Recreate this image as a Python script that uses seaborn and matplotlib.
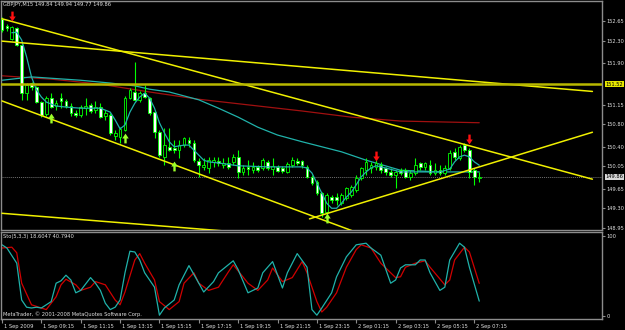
import matplotlib
matplotlib.use("Agg")
import matplotlib.pyplot as plt
import matplotlib.transforms as mtransforms
from matplotlib.path import Path
from matplotlib import font_manager
import seaborn as sns
import pandas as pd

# ---------------- data ----------------
opens = [152.69, 152.56, 152.33, 152.52, 152.22, 151.36, 151.54, 151.47, 151.20, 150.99,
         151.27, 151.13, 151.27, 151.22, 151.13, 151.00, 150.97, 151.09, 151.15, 151.06,
         151.11, 150.95, 150.97, 150.59, 150.57, 150.70, 151.27, 151.38, 151.24, 151.36,
         151.27, 151.02, 150.66, 150.22, 150.40, 150.38, 150.34, 150.43, 150.52, 150.47,
         150.15, 150.04, 150.02, 150.13, 150.15, 150.07, 150.11, 150.13, 150.22, 149.95,
         150.04, 149.98, 150.04, 150.02, 150.13, 150.00, 150.04, 150.02, 149.95, 150.07,
         150.15, 150.15, 150.04, 149.86, 149.77, 149.57, 149.23, 149.50, 149.50, 149.39,
         149.48, 149.54, 149.63, 149.84, 149.98, 150.02, 150.04, 150.07, 150.02, 149.95,
         149.89, 149.98, 149.98, 149.86, 149.93, 150.11, 150.04, 150.07, 149.93, 149.98,
         149.93, 150.02, 150.31, 150.20, 150.43, 150.34, 149.98, 149.84]
highs = [152.72, 152.60, 152.56, 152.54, 152.24, 151.54, 151.56, 151.49, 151.22, 151.31,
         151.36, 151.24, 151.36, 151.25, 151.18, 151.06, 151.15, 151.27, 151.18, 151.22,
         151.18, 151.06, 151.00, 150.70, 150.75, 151.31, 151.45, 151.92, 151.40, 151.50,
         151.29, 151.06, 150.70, 150.74, 150.74, 150.52, 150.52, 150.57, 150.57, 150.52,
         150.20, 150.20, 150.22, 150.22, 150.22, 150.20, 150.22, 150.27, 150.34, 150.07,
         150.16, 150.13, 150.07, 150.20, 150.16, 150.20, 150.07, 150.06, 150.13, 150.22,
         150.20, 150.16, 150.07, 149.89, 149.81, 149.59, 149.57, 149.54, 149.57, 149.57,
         149.68, 149.72, 149.89, 150.04, 150.20, 150.13, 150.16, 150.13, 150.04, 150.02,
         149.98, 150.02, 150.02, 149.98, 150.20, 150.13, 150.13, 150.16, 150.11, 150.07,
         150.07, 150.34, 150.38, 150.43, 150.47, 150.38, 150.02, 149.94]
lows = [152.45, 152.47, 152.31, 152.20, 151.24, 151.24, 151.42, 151.18, 150.93, 150.95,
        151.09, 151.06, 151.09, 151.09, 150.95, 150.93, 150.93, 150.97, 151.00, 151.00,
        150.91, 150.88, 150.61, 150.52, 150.47, 150.68, 151.25, 151.22, 151.20, 151.27,
        150.97, 150.56, 150.22, 150.07, 150.32, 150.29, 150.20, 150.40, 150.40, 150.13,
        149.86, 149.98, 149.93, 150.04, 150.06, 150.02, 150.00, 150.07, 149.84, 149.89,
        149.89, 149.93, 149.95, 149.98, 149.98, 149.89, 149.95, 149.93, 149.93, 150.04,
        150.07, 150.02, 149.84, 149.72, 149.54, 149.14, 149.09, 149.39, 149.36, 149.36,
        149.45, 149.50, 149.59, 149.81, 149.89, 149.93, 149.98, 149.93, 149.89, 149.86,
        149.66, 149.89, 149.84, 149.81, 149.89, 149.98, 149.98, 149.89, 149.89, 149.89,
        149.89, 149.98, 150.16, 150.16, 150.31, 149.84, 149.72, 149.77]
closes = [152.49, 152.52, 152.54, 152.22, 151.36, 151.50, 151.47, 151.20, 150.97, 151.27,
          151.11, 151.18, 151.22, 151.13, 151.00, 150.97, 151.11, 151.13, 151.04, 151.11,
          150.93, 151.00, 150.65, 150.65, 150.72, 151.27, 151.42, 151.24, 151.36, 151.29,
          151.00, 150.66, 150.25, 150.43, 150.34, 150.34, 150.43, 150.56, 150.47, 150.16,
          150.07, 150.07, 150.16, 150.16, 150.11, 150.11, 150.04, 150.22, 149.95, 150.02,
          150.00, 150.04, 149.98, 150.16, 150.02, 150.06, 149.97, 149.97, 150.09, 150.16,
          150.11, 150.07, 149.86, 149.75, 149.57, 149.22, 149.54, 149.45, 149.45, 149.54,
          149.66, 149.68, 149.84, 150.02, 150.13, 150.07, 150.11, 149.98, 149.95, 149.89,
          149.95, 149.93, 149.86, 149.93, 150.07, 150.04, 150.11, 149.93, 149.98, 149.93,
          150.02, 150.29, 150.22, 150.40, 150.34, 149.95, 149.86, 149.86]

fast_ma_bar = [2, 3, 4, 5, 6, 7, 8, 9, 11, 13, 16, 20, 22, 23, 24, 25, 26, 27, 28, 29,
               30, 31, 32, 33, 34, 35, 37, 38, 39, 40, 41, 42, 44, 48, 54, 61, 62, 63, 64, 65,
               66, 67, 68, 69, 70, 71, 72, 73, 74, 75, 76, 78, 81, 85, 89, 91, 92, 93, 94, 95,
               96, 97]
fast_ma_val = [152.44, 152.45, 152.31, 152.01, 151.65, 151.42, 151.29, 151.20, 151.13, 151.11,
               151.09, 151.09, 151.02, 150.88, 150.72, 150.79, 151.02, 151.18, 151.29, 151.36,
               151.27, 151.09, 150.83, 150.65, 150.49, 150.40, 150.43, 150.43, 150.34, 150.25,
               150.16, 150.13, 150.11, 150.06, 150.04, 150.04, 150.02, 149.93, 149.75, 149.57,
               149.39, 149.30, 149.30, 149.39, 149.50, 149.59, 149.72, 149.86, 149.95, 150.02,
               150.06, 150.02, 149.95, 149.95, 149.95, 150.00, 150.13, 150.22, 150.25, 150.22,
               150.13, 150.07]
mid_ma_bar = [0, 6, 16, 22, 27, 30, 34, 40, 44, 48, 52, 56, 61, 65, 69, 74, 81, 89, 97]
mid_ma_val = [151.59, 151.65, 151.59, 151.54, 151.49, 151.43, 151.38, 151.24, 151.09, 150.93,
              150.75, 150.61, 150.49, 150.40, 150.31, 150.16, 149.98, 149.95, 149.95]
slow_ma_bar = [0, 10, 20, 30, 40, 50, 61, 71, 81, 97]
slow_ma_val = [151.67, 151.61, 151.52, 151.38, 151.25, 151.15, 151.04, 150.93, 150.86, 150.83]

# trend lines (bar, price)
line1_bar, line1_val = [0, 120], [152.69, 149.82]
line2_bar, line2_val = [0, 120], [152.29, 151.39]
line4_bar, line4_val = [0, 80], [151.22, 148.61]
line5_bar, line5_val = [0, 60], [149.21, 148.79]
line6_bar, line6_val = [62.5, 120], [149.11, 150.66]
hline_level = 151.52
current_price = 149.86

# arrows (bar, price)
down_arrow_bar, down_arrow_val = [2, 76, 95], [152.74, 150.24, 150.54]
up_arrow_bar, up_arrow_val = [10, 25, 35, 66], [150.91, 150.56, 150.06, 149.13]

# stochastic (bar, value)
k_bar = [0, 1, 3, 4, 5, 6, 7, 8, 10, 11, 12, 13, 14, 15, 16, 18, 19, 20, 21, 22,
         23, 24, 25, 26, 27, 28, 29, 31, 32, 33, 35, 36, 38, 40, 41, 43, 44, 47, 48, 50,
         52, 53, 55, 57, 58, 60, 62, 63, 64, 65, 67, 68, 70, 72, 74, 75, 77, 79, 80, 81,
         82, 84, 85, 86, 87, 89, 90, 91, 93, 94, 95, 97]
k_val = [89, 85, 66, 20, 11, 10, 11, 10, 18, 41, 44, 51, 45, 29, 32, 48, 41, 32, 16, 8,
         11, 20, 54, 81, 80, 70, 54, 36, 1, 10, 20, 39, 63, 41, 30, 43, 54, 69, 58, 29,
         35, 54, 68, 35, 54, 78, 61, 8, 1, 10, 29, 49, 74, 89, 91, 85, 76, 41, 45, 60,
         64, 64, 70, 70, 54, 32, 36, 70, 91, 86, 61, 18.6047]
d_bar = [0, 2, 3, 4, 6, 8, 9, 11, 12, 13, 15, 16, 18, 19, 21, 23, 24, 25, 27, 28,
         29, 31, 32, 34, 36, 37, 39, 40, 42, 44, 46, 47, 50, 52, 54, 55, 57, 59, 61, 62,
         64, 65, 66, 68, 70, 72, 73, 75, 77, 80, 81, 82, 84, 86, 87, 90, 91, 92, 94, 95,
         97]
d_val = [85, 86, 79, 41, 14, 10, 8, 24, 39, 46, 39, 32, 36, 43, 39, 20, 14, 30, 70, 78,
         66, 45, 18, 8, 18, 41, 54, 41, 32, 36, 55, 64, 41, 32, 45, 60, 43, 48, 68, 54,
         18, 5, 11, 29, 61, 83, 89, 85, 66, 48, 49, 61, 66, 69, 61, 39, 45, 70, 86, 80,
         40.794]

time_labels = ["1 Sep 2009", "1 Sep 09:15", "1 Sep 11:15", "1 Sep 13:15", "1 Sep 15:15",
               "1 Sep 17:15", "1 Sep 19:15", "1 Sep 21:15", "1 Sep 23:15", "2 Sep 01:15",
               "2 Sep 03:15", "2 Sep 05:15", "2 Sep 07:15"]
time_label_bar = [0, 8, 16, 24, 32, 40, 48, 56, 64, 72, 80, 88, 96]
price_ticks = [152.65, 152.30, 151.90, 151.15, 150.80, 150.40, 150.05, 149.65, 149.30, 148.95]
header = "GBPJPY,M15 149.84 149.94 149.77 149.86"
stoch_header = "Sto(5,3,3) 18.6047 40.7940"
footer = "MetaTrader, \u00a9 2001-2008 MetaQuotes Software Corp."

# ---------------- style ----------------
sns.set_theme(style="dark", rc={"axes.facecolor": "black", "figure.facecolor": "black"})
avail = {f.name for f in font_manager.fontManager.ttflist}
fam = "Liberation Sans Narrow" if "Liberation Sans Narrow" in avail else "DejaVu Sans"
plt.rcParams["font.family"] = [fam, "DejaVu Sans"]
FS = 4.4 if fam != "DejaVu Sans" else 3.7
TXT = "#E0E0E0"
BORDER = "#8C8C8C"
LIME = "#00FF00"
TEAL = "#20B2AA"
YEL = "#F0F000"

W, H = 625, 330
def rect(x0, y0, x1, y1):
    return [x0 / W, 1 - y1 / H, (x1 - x0) / W, (y1 - y0) / H]

fig = plt.figure(figsize=(6.25, 3.3), dpi=100, facecolor="black")
ax = fig.add_axes(rect(1, 1, 602, 230))
ax2 = fig.add_axes(rect(1, 232, 602, 319))

XL = (-0.2, 121.95)
for a in (ax, ax2):
    a.set_facecolor("black")
    a.set_xlim(*XL)
    a.grid(False)
    for s in a.spines.values():
        s.set_color(BORDER)
        s.set_linewidth(1.0)
ax.set_ylim(148.911, 153.008)
ax2.set_ylim(-3.75, 105)

# candles
n = len(opens)
bars = list(range(n))
ax.vlines(bars, lows, highs, color=LIME, linewidth=0.8, zorder=3)
bottoms = [min(o, c) for o, c in zip(opens, closes)]
heights = [max(abs(c - o), 0.004) for o, c in zip(opens, closes)]
fills = ["white" if c < o else "black" for o, c in zip(opens, closes)]
ax.bar(bars, heights, bottom=bottoms, width=0.55, color=fills, edgecolor=LIME,
       linewidth=0.6, zorder=4)

# moving averages
sns.lineplot(x=slow_ma_bar, y=slow_ma_val, ax=ax, color="#A01010", linewidth=0.9, zorder=2)
sns.lineplot(x=mid_ma_bar, y=mid_ma_val, ax=ax, color=TEAL, linewidth=0.9, zorder=2)
sns.lineplot(x=fast_ma_bar, y=fast_ma_val, ax=ax, color=TEAL, linewidth=0.9, zorder=5)

# trend lines
for b, v in [(line1_bar, line1_val), (line2_bar, line2_val), (line4_bar, line4_val),
             (line5_bar, line5_val), (line6_bar, line6_val)]:
    sns.lineplot(x=b, y=v, ax=ax, color=YEL, linewidth=1.1, zorder=6)
ax.axhline(hline_level, color="#B8B800", linewidth=1.8, zorder=6)
ax.axhline(current_price, color="#707070", linewidth=0.7, linestyle=(0, (1, 1)), zorder=1)

# arrows
down_path = Path([(-0.12, 0.5), (0.12, 0.5), (0.12, 0.0), (0.33, 0.0), (0.0, -0.5),
                  (-0.33, 0.0), (-0.12, 0.0), (-0.12, 0.5)],
                 [Path.MOVETO] + [Path.LINETO] * 6 + [Path.CLOSEPOLY])
up_path = Path([(x, -y) for x, y in down_path.vertices], down_path.codes)
ax.scatter(down_arrow_bar, down_arrow_val, marker=down_path, s=50, color="#FF1010",
           linewidths=0, zorder=7)
ax.scatter(up_arrow_bar, up_arrow_val, marker=up_path, s=50, color="#9CFF2A",
           linewidths=0, zorder=7)

# stochastic
sns.lineplot(x=d_bar, y=d_val, ax=ax2, color="#D00000", linewidth=0.9)
sns.lineplot(x=k_bar, y=k_val, ax=ax2, color=TEAL, linewidth=0.9)

# axes ticks
ax.yaxis.tick_right()
ax.set_yticks(price_ticks)
ax.set_yticklabels([f"{p:.2f}" for p in price_ticks])
ax.set_xticks([])
ax.tick_params(axis="y", right=True, length=2.2, width=0.8, color=BORDER, labelsize=FS,
               labelcolor=TXT, pad=0.8)
ax.set_xlabel("")
ax.set_ylabel("")

ax2.yaxis.tick_right()
ax2.set_yticks([100, 0])
ax2.set_yticklabels(["100", "0"])
ax2.tick_params(axis="y", right=True, length=2.2, width=0.8, color=BORDER, labelsize=FS,
                labelcolor=TXT, pad=0.8)
ax2.set_xticks(time_label_bar)
ax2.set_xticklabels(time_labels, ha="left")
ax2.tick_params(axis="x", bottom=True, length=3, width=0.8, color=BORDER, labelsize=FS,
                labelcolor=TXT, pad=0.5)
off = mtransforms.ScaledTranslation(2 / 100, 0, fig.dpi_scale_trans)
for lab in ax2.get_xticklabels():
    lab.set_transform(lab.get_transform() + off)
ax2.set_xlabel("")
ax2.set_ylabel("")

# highlighted price labels
hl_off = mtransforms.ScaledTranslation(3.5 / 100, 0, fig.dpi_scale_trans)
for level, fc in [(hline_level, "#E8E800"), (current_price, "#D8D8D8")]:
    ax.text(1.0, level, f"{level:.2f}", transform=ax.get_yaxis_transform() + hl_off,
            fontsize=FS, color="black", va="center", ha="left", clip_on=False,
            bbox=dict(boxstyle="square,pad=0.15", fc=fc, ec="none"))

# header texts
fig.text(3 / W, 1 - 2 / H, header, fontsize=FS, color=TXT, va="top", ha="left")
fig.text(3 / W, 1 - 234 / H, stoch_header, fontsize=FS, color=TXT, va="top", ha="left")
fig.text(3 / W, 1 - 317 / H, footer, fontsize=FS, color=TXT, va="bottom", ha="left")

fig.savefig("out.png", dpi=100, facecolor="black")
